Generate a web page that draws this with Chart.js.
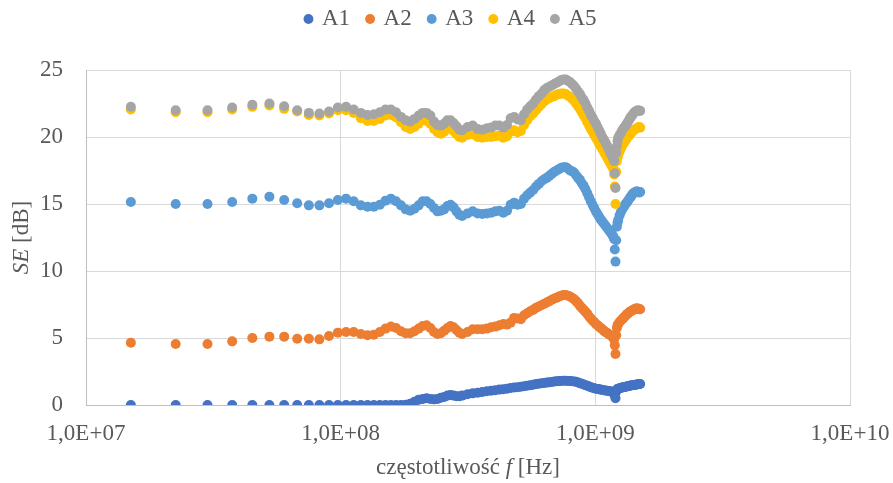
<!DOCTYPE html>
<html><head><meta charset="utf-8">
<script src="https://cdn.jsdelivr.net/npm/chart.js@4.4.1/dist/chart.umd.min.js"></script>
<style>html,body{margin:0;padding:0;background:#fff;}</style>
</head><body>
<canvas id="c" width="893" height="483" style="display:block;width:893px;height:483px"></canvas>
<script>
// frequencies in MHz
const freqMHz = [
  15, 22.5, 30, 37.5, 45, 52.5, 60, 67.5, 75, 82.5,
  90, 97.5, 105, 112.5, 120, 127.5, 135, 142.5, 150, 157.5,
  165, 172.5, 180, 187.5, 195, 202.5, 210, 217.5, 225, 232.5,
  240, 247.5, 255, 262.5, 270, 277.5, 285, 292.5, 300,
  315, 330, 345, 360, 375, 390, 405, 420, 435, 450,
  465, 480, 495, 510, 525, 540, 555, 570, 585, 600,
  615, 630, 645, 660, 675, 690, 705, 720, 735, 750,
  765, 780, 795, 810, 825, 840, 855, 870, 885, 900,
  915, 930, 945, 960, 975, 990, 1005, 1020, 1035, 1050,
  1065, 1080, 1095, 1110, 1125, 1140, 1155, 1170,
  1177.5, 1185, 1192.5, 1200, 1207.5, 1215, 1222.5,
  1230, 1245, 1260, 1275, 1290, 1305, 1320, 1335, 1350, 1365,
  1380, 1395, 1410, 1425, 1440, 1455, 1470, 1485, 1500
];
const A1 = [
  0, 0, 0, 0, 0, 0, 0, 0, 0, 0,
  0, 0, 0, 0, 0, 0, 0, 0, 0, 0,
  0, 0, 0.02, 0.1, 0.25, 0.4, 0.45, 0.5, 0.45, 0.42,
  0.45, 0.55, 0.6, 0.7, 0.75, 0.7, 0.65, 0.65, 0.7,
  0.8, 0.87, 0.92, 0.97, 1.02, 1.07, 1.1, 1.15, 1.18, 1.22,
  1.27, 1.3, 1.33, 1.36, 1.4, 1.43, 1.47, 1.52, 1.56, 1.59,
  1.62, 1.65, 1.67, 1.7, 1.72, 1.75, 1.77, 1.79, 1.8, 1.81,
  1.81, 1.8, 1.79, 1.77, 1.75, 1.73, 1.68, 1.63, 1.58, 1.53,
  1.48, 1.43, 1.38, 1.33, 1.29, 1.25, 1.22, 1.2, 1.17, 1.15,
  1.12, 1.1, 1.08, 1.06, 1.04, 1.02, 1.0, 0.98,
  0.95, 0.9, 0.7, 0.5, 1.0, 1.15, 1.2,
  1.22, 1.25, 1.28, 1.3, 1.33, 1.35, 1.37, 1.39, 1.41, 1.43,
  1.45, 1.47, 1.49, 1.5, 1.52, 1.53, 1.55, 1.56, 1.57
];
const A2 = [
  4.65, 4.55, 4.55, 4.75, 5.0, 5.1, 5.1, 4.95, 4.95, 4.9,
  5.15, 5.4, 5.45, 5.45, 5.3, 5.2, 5.25, 5.45, 5.7, 5.85,
  5.75, 5.5, 5.35, 5.35, 5.5, 5.7, 5.9, 5.95, 5.75, 5.45,
  5.3, 5.35, 5.55, 5.75, 5.9, 5.8, 5.6, 5.4, 5.3,
  5.45, 5.65, 5.65, 5.65, 5.7, 5.8, 5.85, 5.95, 6.05, 6.0,
  6.15, 6.5, 6.45, 6.4, 6.7, 6.85, 7.0, 7.1, 7.25, 7.35,
  7.45, 7.55, 7.65, 7.75, 7.85, 7.95, 8.0, 8.1, 8.15, 8.2,
  8.2, 8.15, 8.1, 8.0, 7.9, 7.75, 7.6, 7.4, 7.25, 7.1,
  6.95, 6.8, 6.6, 6.45, 6.3, 6.2, 6.05, 5.95, 5.85, 5.75,
  5.65, 5.55, 5.45, 5.4, 5.3, 5.25, 5.15, 5.1,
  5.0, 4.9, 4.45, 3.8, 5.2, 5.75, 5.95,
  6.05, 6.2, 6.3, 6.4, 6.5, 6.6, 6.7, 6.8, 6.85, 6.95,
  7.0, 7.05, 7.1, 7.15, 7.2, 7.2, 7.2, 7.15, 7.15
];
const A3 = [
  15.15, 15.0, 15.0, 15.15, 15.4, 15.55, 15.3, 15.05, 14.9, 14.9,
  15.05, 15.3, 15.4, 15.2, 14.9, 14.8, 14.8, 14.95, 15.25, 15.4,
  15.2, 14.9, 14.6, 14.5, 14.65, 14.9, 15.2, 15.2, 15.0, 14.7,
  14.45, 14.5, 14.6, 14.85, 14.95, 14.75, 14.45, 14.2, 14.1,
  14.3, 14.45, 14.3, 14.25, 14.3, 14.35, 14.45, 14.5, 14.35, 14.5,
  14.95, 15.1, 14.95, 15.0, 15.4, 15.65, 15.85, 16.05, 16.3, 16.5,
  16.7, 16.85, 16.95, 17.1, 17.25, 17.4, 17.5, 17.6, 17.7, 17.75,
  17.75, 17.65, 17.5, 17.45, 17.35, 17.15, 16.95, 16.8, 16.55, 16.35,
  16.1, 15.8, 15.5, 15.2, 14.95, 14.7, 14.45, 14.25, 14.05, 13.85,
  13.7, 13.55, 13.4, 13.25, 13.1, 12.95, 12.8, 12.65,
  12.55, 12.4, 11.6, 10.7, 12.3, 13.3, 13.6,
  13.8, 14.15, 14.4, 14.6, 14.75, 14.9, 15.05, 15.15, 15.3, 15.45,
  15.55, 15.7, 15.8, 15.85, 15.9, 15.95, 15.9, 15.85, 15.9
];
const A4 = [
  22.05, 21.85, 21.85, 22.05, 22.25, 22.35, 22.1, 21.9, 21.65, 21.6,
  21.75, 22.0, 22.0, 21.8, 21.4, 21.2, 21.2, 21.35, 21.6, 21.65,
  21.45, 21.1, 20.75, 20.6, 20.75, 21.0, 21.25, 21.2, 21.0, 20.6,
  20.35, 20.25, 20.4, 20.6, 20.65, 20.45, 20.2, 20.0, 19.95,
  20.15, 20.2, 20.0, 19.95, 20.0, 20.0, 20.05, 20.1, 19.95, 20.05,
  20.4, 20.5, 20.35, 20.45, 20.9, 21.25, 21.55, 21.75, 22.0, 22.25,
  22.45, 22.65, 22.8, 22.9, 23.0, 23.05, 23.15, 23.2, 23.25, 23.25,
  23.2, 23.1, 23.0, 22.85, 22.7, 22.5, 22.3, 22.1, 21.85, 21.6,
  21.4, 21.1, 20.85, 20.6, 20.4, 20.15, 19.95, 19.75, 19.5, 19.3,
  19.1, 18.9, 18.7, 18.5, 18.3, 18.1, 17.9, 17.75,
  17.6, 17.2, 16.3, 15.0, 17.4, 18.2, 18.5,
  18.65, 18.9, 19.15, 19.35, 19.5, 19.65, 19.8, 19.95, 20.05, 20.15,
  20.3, 20.4, 20.5, 20.55, 20.6, 20.65, 20.7, 20.75, 20.7
];
const A5 = [
  22.25, 22.0, 22.0, 22.2, 22.4, 22.5, 22.3, 22.0, 21.8, 21.75,
  21.9, 22.2, 22.25, 22.05, 21.8, 21.65, 21.7, 21.85, 22.05, 22.05,
  21.85, 21.5, 21.25, 21.15, 21.35, 21.6, 21.8, 21.8, 21.6, 21.15,
  20.9, 20.85, 21.0, 21.25, 21.25, 21.05, 20.8, 20.55, 20.5,
  20.75, 20.85, 20.6, 20.55, 20.65, 20.7, 20.85, 20.85, 20.7, 20.9,
  21.4, 21.5, 21.3, 21.25, 21.7, 22.05, 22.3, 22.5, 22.8, 23.05,
  23.25, 23.5, 23.65, 23.75, 23.85, 23.95, 24.05, 24.15, 24.25, 24.3,
  24.3, 24.2, 24.1, 23.95, 23.8, 23.6, 23.4, 23.2, 22.95, 22.75,
  22.5, 22.2, 21.95, 21.65, 21.45, 21.2, 21.0, 20.75, 20.5, 20.25,
  20.0, 19.8, 19.6, 19.4, 19.15, 18.9, 18.7, 18.5,
  18.35, 18.2, 17.3, 16.2, 18.8, 19.3, 19.7,
  19.95, 20.15, 20.3, 20.5, 20.65, 20.75, 20.9, 21.05, 21.2, 21.35,
  21.5, 21.6, 21.75, 21.85, 21.9, 21.95, 22.0, 21.95, 21.95
];

const seriesNames = ['A1', 'A2', 'A3', 'A4', 'A5'];
const seriesValues = [A1, A2, A3, A4, A5];
const seriesColors = ['#4472C4', '#ED7D31', '#5B9BD5', '#FFC000', '#A5A5A5'];
const xTickValues = [1e7, 1e8, 1e9, 1e10];
const xTickLabels = ['1,0E+07', '1,0E+08', '1,0E+09', '1,0E+10'];
const yTickValues = [0, 5, 10, 15, 20, 25];
const xTitleParts = [['częstotliwość ', false], ['f', true], [' [Hz]', false]];
const yTitleParts = [['SE', true], [' [dB]', false]];

const FONT = '"Liberation Serif", "Times New Roman", serif';
const TEXT = '#595959';
const FS = 23;

const datasets = seriesNames.map((name, k) => ({
  label: name,
  data: freqMHz.map((f, i) => ({ x: f * 1e6, y: seriesValues[k][i] })),
  backgroundColor: seriesColors[k],
  borderColor: seriesColors[k],
  pointRadius: 5,
  pointBorderWidth: 0,
  pointHoverRadius: 5,
  showLine: false,
  order: seriesNames.length - k
}));

const axisTitles = {
  id: 'axisTitles',
  afterDraw(chart) {
    const ctx = chart.ctx, ca = chart.chartArea;
    function drawParts(parts, cx, cy) {
      let total = 0;
      const widths = parts.map(([t, it]) => {
        ctx.font = (it ? 'italic ' : '') + FS + 'px ' + FONT;
        const w = ctx.measureText(t).width; total += w; return w;
      });
      let x = cx - total / 2;
      parts.forEach(([t, it], i) => {
        ctx.font = (it ? 'italic ' : '') + FS + 'px ' + FONT;
        ctx.fillText(t, x, cy); x += widths[i];
      });
    }
    ctx.save();
    ctx.fillStyle = TEXT; ctx.textBaseline = 'alphabetic'; ctx.textAlign = 'left';
    drawParts(xTitleParts, (ca.left + ca.right) / 2, 474);
    ctx.translate(28, (ca.top + ca.bottom) / 2);
    ctx.rotate(-Math.PI / 2);
    drawParts(yTitleParts, 0, 0);
    ctx.restore();
  }
};

new Chart(document.getElementById('c'), {
  type: 'scatter',
  data: { datasets },
  options: {
    responsive: false,
    animation: false,
    events: [],
    layout: { padding: { top: -10.5, right: 26, bottom: 0, left: 36 } },
    scales: {
      x: {
        type: 'logarithmic',
        min: 1e7, max: 1e10,
        afterBuildTicks: s => { s.ticks = xTickValues.map(v => ({ value: v })); },
        afterFit: s => { s.height = 78; },
        ticks: {
          autoSkip: false, maxRotation: 0, padding: 2,
          color: TEXT, font: { family: FONT, size: FS },
          callback: v => { const i = xTickValues.indexOf(v); return i >= 0 ? xTickLabels[i] : ''; }
        },
        grid: { color: '#D9D9D9', lineWidth: 1, drawTicks: true, tickLength: 13, tickColor: 'rgba(0,0,0,0)' },
        border: { color: '#BFBFBF', width: 1 }
      },
      y: {
        type: 'linear',
        min: 0, max: 25,
        afterBuildTicks: s => { s.ticks = yTickValues.map(v => ({ value: v })); },
        afterFit: s => { s.width = 50; },
        ticks: { padding: 23, color: TEXT, font: { family: FONT, size: FS } },
        grid: { color: '#D9D9D9', lineWidth: 1, drawTicks: false },
        border: { color: '#BFBFBF', width: 1 }
      },
      yRight: {
        type: 'linear',
        position: 'right',
        min: 0, max: 25,
        afterFit: s => { s.width = 17; },
        ticks: { display: false },
        grid: { display: false, drawTicks: false },
        border: { display: false }
      }
    },
    plugins: {
      tooltip: { enabled: false },
      title: { display: true, text: '', weight: 500, font: { size: 10, lineHeight: 1 }, padding: { top: 0, bottom: 19.5 } },
      legend: {
        position: 'top',
        labels: {
          usePointStyle: true, pointStyle: 'circle', boxWidth: 4, boxHeight: 7, padding: 18,
          color: TEXT, font: { family: FONT, size: FS },
          sort: (a, b) => a.datasetIndex - b.datasetIndex
        }
      }
    }
  },
  plugins: [axisTitles]
});
</script>
</body></html>
